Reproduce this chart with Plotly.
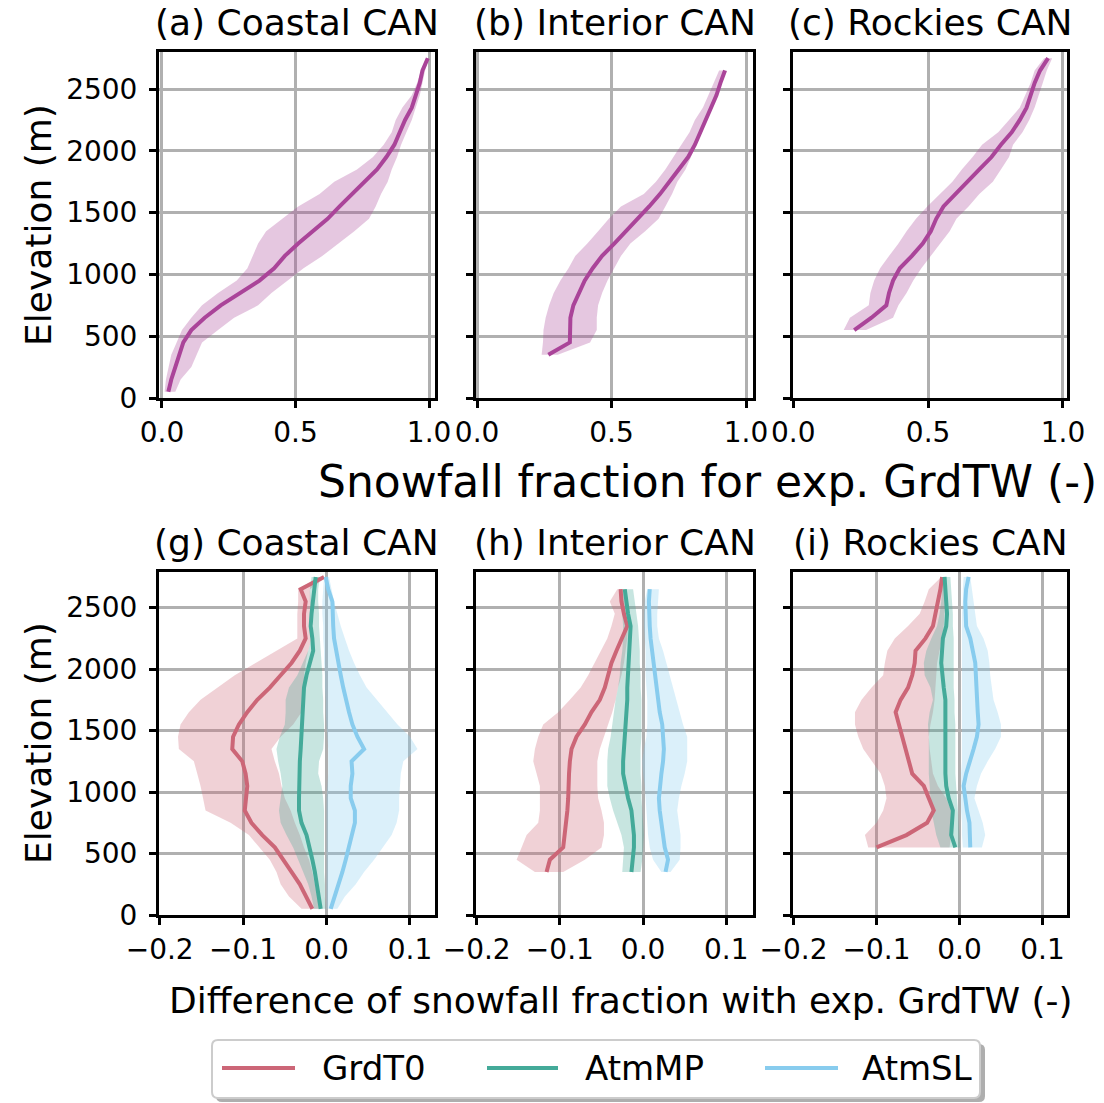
import plotly.graph_objects as go

W, H = 1104, 1103

# ---------------------------------------------------------------- data
# Elevation bins (m) per region
ELEV_COASTAL = [50, 150, 250, 350, 450, 550, 650, 750, 850, 950, 1050, 1150, 1250, 1350,
                1450, 1550, 1650, 1750, 1850, 1950, 2050, 2150, 2250, 2350, 2450, 2550, 2650, 2750]
ELEV_INTERIOR = [350, 450, 550, 650, 750, 850, 950, 1050, 1150, 1250, 1350, 1450, 1550, 1650,
                 1750, 1850, 1950, 2050, 2150, 2250, 2350, 2450, 2550, 2650]
ELEV_ROCKIES = [550, 650, 750, 850, 950, 1050, 1150, 1250, 1350, 1450, 1550, 1650, 1750, 1850,
                1950, 2050, 2150, 2250, 2350, 2450, 2550, 2650, 2750]

# Snowfall fraction for exp. GrdTW: median and spread
coastal_sf_med = [0.024, 0.035, 0.05, 0.065, 0.08, 0.11, 0.16, 0.22, 0.295, 0.365, 0.42, 0.46, 0.51, 0.565,
                  0.62, 0.665, 0.71, 0.76, 0.805, 0.84, 0.87, 0.89, 0.91, 0.935, 0.95, 0.965, 0.975, 0.995]
coastal_sf_lo = [0.01, 0.015, 0.025, 0.035, 0.055, 0.075, 0.11, 0.15, 0.21, 0.28, 0.32, 0.34, 0.36, 0.39,
                 0.45, 0.51, 0.59, 0.645, 0.73, 0.79, 0.83, 0.86, 0.875, 0.9, 0.935, 0.955, 0.97, 0.99]
coastal_sf_hi = [0.05, 0.07, 0.11, 0.13, 0.15, 0.21, 0.27, 0.36, 0.41, 0.47, 0.53, 0.6, 0.66, 0.72,
                 0.775, 0.8, 0.82, 0.845, 0.86, 0.88, 0.895, 0.915, 0.935, 0.95, 0.965, 0.975, 0.985, 1.0]

interior_sf_med = [0.265, 0.345, 0.346, 0.347, 0.358, 0.378, 0.40, 0.43, 0.465, 0.51, 0.555, 0.60,
                   0.64, 0.68, 0.715, 0.75, 0.785, 0.81, 0.83, 0.85, 0.87, 0.89, 0.905, 0.922]
interior_sf_lo = [0.24, 0.245, 0.247, 0.255, 0.268, 0.285, 0.31, 0.34, 0.365, 0.41, 0.45, 0.49,
                  0.535, 0.62, 0.665, 0.70, 0.73, 0.76, 0.79, 0.81, 0.84, 0.86, 0.88, 0.90]
interior_sf_hi = [0.30, 0.42, 0.445, 0.445, 0.45, 0.465, 0.485, 0.51, 0.535, 0.57, 0.625, 0.675,
                  0.70, 0.725, 0.745, 0.775, 0.795, 0.815, 0.835, 0.855, 0.87, 0.885, 0.90, 0.93]

rockies_sf_med = [0.226, 0.29, 0.345, 0.355, 0.37, 0.395, 0.44, 0.48, 0.51, 0.53, 0.557, 0.60,
                  0.648, 0.69, 0.735, 0.77, 0.81, 0.84, 0.865, 0.88, 0.895, 0.915, 0.945]
rockies_sf_lo = [0.187, 0.21, 0.28, 0.286, 0.30, 0.322, 0.355, 0.39, 0.42, 0.455, 0.497, 0.545,
                 0.59, 0.625, 0.665, 0.70, 0.76, 0.80, 0.84, 0.86, 0.88, 0.895, 0.93]
rockies_sf_hi = [0.27, 0.37, 0.39, 0.42, 0.445, 0.475, 0.51, 0.545, 0.58, 0.605, 0.65, 0.69,
                 0.74, 0.77, 0.80, 0.815, 0.85, 0.875, 0.895, 0.91, 0.925, 0.94, 0.96]

# Differences of snowfall fraction with exp. GrdTW, Coastal CAN
coastal_grdt0_med = [-0.017, -0.025, -0.032, -0.042, -0.052, -0.062, -0.077, -0.09, -0.098, -0.096, -0.095, -0.097, -0.101, -0.113,
                     -0.112, -0.105, -0.095, -0.083, -0.068, -0.055, -0.042, -0.032, -0.025, -0.027, -0.027, -0.025, -0.031, -0.003]
coastal_grdt0_lo = [-0.03, -0.045, -0.055, -0.06, -0.068, -0.08, -0.093, -0.115, -0.145, -0.148, -0.151, -0.155, -0.159, -0.177,
                    -0.178, -0.175, -0.165, -0.151, -0.13, -0.11, -0.085, -0.06, -0.035, -0.035, -0.035, -0.034, -0.034, -0.01]
coastal_grdt0_hi = [-0.009, -0.011, -0.014, -0.017, -0.021, -0.027, -0.032, -0.038, -0.043, -0.05, -0.054, -0.057, -0.062, -0.066,
                    -0.055, -0.04, -0.03, -0.027, -0.027, -0.027, -0.025, -0.022, -0.018, -0.017, -0.018, -0.019, -0.02, 0.0]
coastal_atmmp_med = [-0.007, -0.009, -0.011, -0.014, -0.017, -0.02, -0.024, -0.03, -0.033, -0.033, -0.033, -0.033, -0.032, -0.031,
                     -0.03, -0.029, -0.028, -0.027, -0.027, -0.024, -0.02, -0.016, -0.017, -0.019, -0.018, -0.016, -0.015, -0.013]
coastal_atmmp_lo = [-0.015, -0.018, -0.022, -0.028, -0.034, -0.04, -0.048, -0.055, -0.057, -0.055, -0.053, -0.055, -0.058, -0.06,
                    -0.056, -0.05, -0.049, -0.049, -0.045, -0.035, -0.028, -0.022, -0.018, -0.016, -0.018, -0.02, -0.02, -0.018]
coastal_atmmp_hi = [-0.001, -0.002, -0.002, -0.003, -0.003, -0.003, -0.003, -0.003, -0.003, -0.004, -0.006, -0.01, -0.009, -0.004,
                    -0.003, -0.003, -0.004, -0.004, -0.005, -0.005, -0.006, -0.007, -0.008, -0.009, -0.009, -0.01, -0.01, -0.008]
coastal_atmsl_med = [0.005, 0.01, 0.014, 0.019, 0.023, 0.027, 0.031, 0.034, 0.034, 0.029, 0.029, 0.031, 0.03, 0.045,
                     0.037, 0.031, 0.027, 0.023, 0.02, 0.017, 0.014, 0.011, 0.009, 0.008, 0.007, 0.007, 0.002, -0.001]
coastal_atmsl_lo = [0.0, 0.0, 0.0, 0.0, 0.0, 0.0, 0.0, 0.0, 0.0, 0.0, 0.001, 0.002, 0.002, 0.002,
                    0.001, 0.0, -0.001, -0.001, -0.002, -0.002, -0.003, -0.003, -0.004, -0.004, -0.005, -0.005, -0.004, -0.003]
coastal_atmsl_hi = [0.013, 0.022, 0.035, 0.045, 0.057, 0.068, 0.078, 0.084, 0.087, 0.087, 0.088, 0.089, 0.092, 0.109,
                    0.1, 0.085, 0.072, 0.06, 0.048, 0.04, 0.033, 0.027, 0.022, 0.017, 0.013, 0.009, 0.006, 0.003]

# Interior CAN
interior_grdt0_med = [-0.116, -0.112, -0.096, -0.094, -0.093, -0.091, -0.09, -0.09, -0.089, -0.088, -0.086, -0.08,
                      -0.07, -0.062, -0.052, -0.046, -0.042, -0.038, -0.032, -0.026, -0.019, -0.023, -0.026, -0.027]
interior_grdt0_lo = [-0.13, -0.152, -0.146, -0.14, -0.126, -0.124, -0.124, -0.124, -0.128, -0.132, -0.13, -0.126,
                     -0.12, -0.102, -0.088, -0.075, -0.066, -0.058, -0.05, -0.043, -0.038, -0.034, -0.04, -0.031]
interior_grdt0_hi = [-0.096, -0.07, -0.05, -0.047, -0.047, -0.05, -0.054, -0.055, -0.055, -0.055, -0.052, -0.047,
                     -0.042, -0.037, -0.033, -0.03, -0.026, -0.023, -0.021, -0.019, -0.018, -0.02, -0.021, -0.022]
interior_atmmp_med = [-0.014, -0.012, -0.011, -0.011, -0.012, -0.014, -0.018, -0.021, -0.024, -0.024, -0.023, -0.022,
                      -0.02, -0.02, -0.019, -0.019, -0.018, -0.018, -0.017, -0.016, -0.015, -0.018, -0.02, -0.022]
interior_atmmp_lo = [-0.025, -0.024, -0.023, -0.026, -0.031, -0.036, -0.04, -0.043, -0.043, -0.043, -0.042, -0.039,
                     -0.037, -0.035, -0.033, -0.03, -0.028, -0.027, -0.025, -0.024, -0.024, -0.025, -0.025, -0.025]
interior_atmmp_hi = [-0.003, -0.001, 0.0, 0.001, 0.0, -0.001, -0.002, -0.002, -0.003, -0.003, -0.003, -0.002,
                     -0.002, -0.002, -0.002, -0.003, -0.003, -0.004, -0.004, -0.005, -0.006, -0.008, -0.01, -0.012]
interior_atmsl_med = [0.027, 0.03, 0.026, 0.024, 0.021, 0.02, 0.019, 0.02, 0.022, 0.024, 0.025, 0.024,
                      0.023, 0.02, 0.018, 0.016, 0.015, 0.013, 0.011, 0.009, 0.008, 0.007, 0.007, 0.008]
interior_atmsl_lo = [0.022, 0.012, 0.008, 0.006, 0.005, 0.004, 0.003, 0.002, 0.0, -0.001, 0.001, 0.004,
                     0.005, 0.005, 0.005, 0.004, 0.003, 0.003, 0.003, 0.002, 0.001, 0.001, 0.002, 0.005]
interior_atmsl_hi = [0.033, 0.044, 0.045, 0.045, 0.043, 0.041, 0.043, 0.046, 0.05, 0.053, 0.053, 0.053,
                     0.048, 0.044, 0.04, 0.036, 0.032, 0.028, 0.024, 0.019, 0.017, 0.017, 0.018, 0.019]

# Rockies CAN
rockies_grdt0_med = [-0.1, -0.064, -0.039, -0.031, -0.037, -0.043, -0.057, -0.061, -0.065, -0.07, -0.074, -0.077,
                     -0.071, -0.062, -0.057, -0.054, -0.053, -0.041, -0.032, -0.029, -0.025, -0.023, -0.021]
rockies_grdt0_lo = [-0.11, -0.114, -0.1, -0.092, -0.088, -0.09, -0.095, -0.105, -0.116, -0.122, -0.126, -0.126,
                    -0.118, -0.106, -0.092, -0.09, -0.087, -0.078, -0.062, -0.048, -0.042, -0.037, -0.022]
rockies_grdt0_hi = [-0.012, -0.01, -0.007, -0.01, -0.016, -0.026, -0.032, -0.034, -0.036, -0.037, -0.035, -0.032,
                    -0.03, -0.029, -0.028, -0.027, -0.024, -0.021, -0.019, -0.018, -0.017, -0.017, -0.019]
rockies_atmmp_med = [-0.005, -0.01, -0.009, -0.008, -0.013, -0.016, -0.017, -0.017, -0.018, -0.018, -0.018, -0.017,
                     -0.017, -0.019, -0.021, -0.022, -0.021, -0.02, -0.016, -0.015, -0.016, -0.017, -0.018]
rockies_atmmp_lo = [-0.023, -0.028, -0.031, -0.034, -0.035, -0.036, -0.037, -0.037, -0.037, -0.037, -0.038, -0.036,
                    -0.032, -0.035, -0.042, -0.043, -0.04, -0.034, -0.027, -0.024, -0.022, -0.021, -0.02]
rockies_atmmp_hi = [0.001, 0.0, -0.001, -0.002, -0.003, -0.004, -0.005, -0.005, -0.005, -0.005, -0.005, -0.006,
                    -0.006, -0.007, -0.007, -0.007, -0.007, -0.007, -0.008, -0.008, -0.009, -0.01, -0.011]
rockies_atmsl_med = [0.013, 0.013, 0.012, 0.009, 0.007, 0.005, 0.008, 0.013, 0.017, 0.021, 0.023, 0.022,
                     0.021, 0.02, 0.02, 0.019, 0.016, 0.013, 0.008, 0.007, 0.007, 0.008, 0.011]
rockies_atmsl_lo = [0.004, 0.003, 0.003, 0.002, 0.002, 0.002, 0.002, 0.003, 0.003, 0.003, 0.003, 0.003,
                    0.003, 0.003, 0.003, 0.003, 0.003, 0.003, 0.003, 0.003, 0.004, 0.004, 0.005]
rockies_atmsl_hi = [0.027, 0.031, 0.028, 0.023, 0.018, 0.021, 0.026, 0.034, 0.043, 0.05, 0.05, 0.046,
                    0.041, 0.039, 0.037, 0.036, 0.034, 0.029, 0.021, 0.019, 0.017, 0.015, 0.013]

PANEL_TITLES_TOP = ["(a) Coastal CAN", "(b) Interior CAN", "(c) Rockies CAN"]
PANEL_TITLES_BOT = ["(g) Coastal CAN", "(h) Interior CAN", "(i) Rockies CAN"]
EXPERIMENTS = ["GrdT0", "AtmMP", "AtmSL"]

Y_TICKS = [0, 500, 1000, 1500, 2000, 2500]
X_TICKS_TOP = [0.0, 0.5, 1.0]
X_TICKS_BOT = [-0.2, -0.1, 0.0, 0.1]

# ---------------------------------------------------------------- style
FONT = "DejaVu Sans"
PURPLE = "#AA4499"
EXP_COLORS = {"GrdT0": "#CC6677", "AtmMP": "#44AA99", "AtmSL": "#88CCEE"}
GRID = "#b0b0b0"
LW = 4


def rgba(hex_color, a):
    h = hex_color.lstrip("#")
    r, g, b = int(h[0:2], 16), int(h[2:4], 16), int(h[4:6], 16)
    return f"rgba({r},{g},{b},{a})"


def px_x(x):
    return x / W


def px_y(y):
    return 1 - y / H


# panel geometry in pixels
COLS = [(159, 435), (476, 753), (793, 1067)]
ROW_TOP = (52, 398)
ROW_BOT = (572, 915)

X_RANGES_TOP = [[-0.011, 1.022], [-0.004, 1.026], [-0.001, 1.015]]
X_RANGES_BOT = [[-0.2008, 0.130], [-0.2008, 0.1321], [-0.2007, 0.1296]]
Y_RANGE_TOP = [0, 2800]
Y_RANGE_BOT = [0, 2790]

fig = go.Figure()


def band(elev, lo, hi, color, xa, ya):
    fig.add_trace(go.Scatter(
        x=list(lo) + list(hi)[::-1], y=list(elev) + list(elev)[::-1],
        fill="toself", fillcolor=rgba(color, 0.3), line=dict(width=0),
        mode="lines", hoverinfo="skip", showlegend=False, xaxis=xa, yaxis=ya))


def line(elev, vals, color, xa, ya, name=None):
    fig.add_trace(go.Scatter(
        x=vals, y=elev, mode="lines", line=dict(color=color, width=LW),
        name=name, showlegend=False, xaxis=xa, yaxis=ya))


top_sets = [
    (ELEV_COASTAL, coastal_sf_med, coastal_sf_lo, coastal_sf_hi),
    (ELEV_INTERIOR, interior_sf_med, interior_sf_lo, interior_sf_hi),
    (ELEV_ROCKIES, rockies_sf_med, rockies_sf_lo, rockies_sf_hi),
]
bot_sets = [
    (ELEV_COASTAL, {
        "GrdT0": (coastal_grdt0_med, coastal_grdt0_lo, coastal_grdt0_hi),
        "AtmMP": (coastal_atmmp_med, coastal_atmmp_lo, coastal_atmmp_hi),
        "AtmSL": (coastal_atmsl_med, coastal_atmsl_lo, coastal_atmsl_hi)}),
    (ELEV_INTERIOR, {
        "GrdT0": (interior_grdt0_med, interior_grdt0_lo, interior_grdt0_hi),
        "AtmMP": (interior_atmmp_med, interior_atmmp_lo, interior_atmmp_hi),
        "AtmSL": (interior_atmsl_med, interior_atmsl_lo, interior_atmsl_hi)}),
    (ELEV_ROCKIES, {
        "GrdT0": (rockies_grdt0_med, rockies_grdt0_lo, rockies_grdt0_hi),
        "AtmMP": (rockies_atmmp_med, rockies_atmmp_lo, rockies_atmmp_hi),
        "AtmSL": (rockies_atmsl_med, rockies_atmsl_lo, rockies_atmsl_hi)}),
]

layout_axes = {}
annotations = []
TICK_FONT = dict(family=FONT, size=28, color="black")
TITLE_FONT = dict(family=FONT, size=36, color="black")


def axis_common():
    return dict(showline=True, mirror=True, linecolor="black", linewidth=3,
                showgrid=True, gridcolor=GRID, gridwidth=2.5, zeroline=False,
                ticks="outside", ticklen=7, tickwidth=2.5, tickcolor="black",
                tickfont=TICK_FONT, automargin=False)


for row, (rows_px, xranges, yrange, titles, xticks) in enumerate([
        (ROW_TOP, X_RANGES_TOP, Y_RANGE_TOP, PANEL_TITLES_TOP, X_TICKS_TOP),
        (ROW_BOT, X_RANGES_BOT, Y_RANGE_BOT, PANEL_TITLES_BOT, X_TICKS_BOT)]):
    for col in range(3):
        k = row * 3 + col + 1
        xa, ya = f"x{k}", f"y{k}"
        xkey, ykey = ("xaxis" if k == 1 else f"xaxis{k}"), ("yaxis" if k == 1 else f"yaxis{k}")
        x0, x1 = COLS[col]
        xt = [f"{v:.1f}".replace("-", "\u2212") for v in xticks]
        layout_axes[xkey] = dict(axis_common(), domain=[px_x(x0), px_x(x1)], range=xranges[col],
                                 anchor=ya, tickvals=xticks, ticktext=xt)
        layout_axes[ykey] = dict(axis_common(), domain=[px_y(rows_px[1]), px_y(rows_px[0])], range=yrange,
                                 anchor=xa, tickvals=Y_TICKS, ticktext=[str(v) for v in Y_TICKS],
                                 showticklabels=(col == 0), ticklabelstandoff=6)
        annotations.append(dict(text=titles[col], x=px_x((x0 + x1) / 2), y=px_y(rows_px[0] - 30),
                                xref="paper", yref="paper", showarrow=False, xanchor="center",
                                yanchor="middle", font=TITLE_FONT))
        if row == 0:
            elev, med, lo, hi = top_sets[col]
            band(elev, lo, hi, PURPLE, xa, ya)
            line(elev, med, PURPLE, xa, ya)
        else:
            elev, exps = bot_sets[col]
            for name in EXPERIMENTS:
                med, lo, hi = exps[name]
                band(elev, lo, hi, EXP_COLORS[name], xa, ya)
            for name in EXPERIMENTS:
                med, lo, hi = exps[name]
                line(elev, med, EXP_COLORS[name], xa, ya, name)

# axis titles
annotations.append(dict(text="Elevation (m)", x=px_x(38), y=px_y(225), xref="paper", yref="paper",
                        textangle=-90, showarrow=False, xanchor="center", yanchor="middle", font=TITLE_FONT))
annotations.append(dict(text="Elevation (m)", x=px_x(38), y=px_y(743), xref="paper", yref="paper",
                        textangle=-90, showarrow=False, xanchor="center", yanchor="middle", font=TITLE_FONT))
annotations.append(dict(text="Snowfall fraction for exp. GrdTW (-)", x=px_x(316), y=px_y(481),
                        xref="paper", yref="paper", showarrow=False, xanchor="left", yanchor="middle",
                        font=dict(family=FONT, size=44, color="black")))
annotations.append(dict(text="Difference of snowfall fraction with exp. GrdTW (-)", x=px_x(621), y=px_y(1000),
                        xref="paper", yref="paper", showarrow=False, xanchor="center", yanchor="middle",
                        font=TITLE_FONT))


# legend box (drawn by hand for wide line handles)
def rounded_rect(x0, y0, x1, y1, r):
    X0, X1 = px_x(x0), px_x(x1)
    Y0, Y1 = px_y(y0), px_y(y1)
    rx, ry = r / W, r / H
    return (f"M {X0 + rx},{Y0} L {X1 - rx},{Y0} Q {X1},{Y0} {X1},{Y0 - ry} "
            f"L {X1},{Y1 + ry} Q {X1},{Y1} {X1 - rx},{Y1} L {X0 + rx},{Y1} "
            f"Q {X0},{Y1} {X0},{Y1 + ry} L {X0},{Y0 - ry} Q {X0},{Y0} {X0 + rx},{Y0} Z")


shapes = [
    dict(type="path", path=rounded_rect(216, 1044, 985, 1102, 6), xref="paper", yref="paper",
         fillcolor="rgba(120,120,120,0.6)", line=dict(width=0), layer="above"),
    dict(type="path", path=rounded_rect(212, 1040, 980, 1098, 6), xref="paper", yref="paper",
         fillcolor="white", line=dict(color="#cccccc", width=2), layer="above"),
]
LEG_ITEMS = [(222, 295, 320), (487, 558, 583), (765, 838, 860)]
for name, (lx0, lx1, tx) in zip(EXPERIMENTS, LEG_ITEMS):
    shapes.append(dict(type="line", x0=px_x(lx0), x1=px_x(lx1), y0=px_y(1068), y1=px_y(1068),
                       xref="paper", yref="paper", line=dict(color=EXP_COLORS[name], width=LW), layer="above"))
    annotations.append(dict(text=name, x=px_x(tx), y=px_y(1068), xref="paper", yref="paper",
                            showarrow=False, xanchor="left", yanchor="middle",
                            font=dict(family=FONT, size=34, color="black")))

fig.update_layout(
    width=W, height=H, margin=dict(l=0, r=0, t=0, b=0, autoexpand=False),
    paper_bgcolor="white", plot_bgcolor="white", showlegend=False,
    font=dict(family=FONT, color="black"),
    annotations=annotations, shapes=shapes, **layout_axes)

fig.write_html("out.html")
